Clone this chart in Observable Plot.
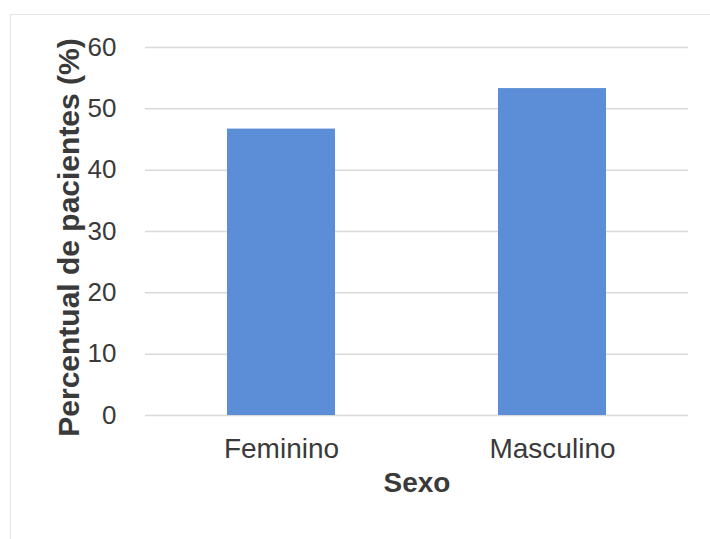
<!DOCTYPE html>
<html>
<head>
<meta charset="utf-8">
<script src="https://cdn.jsdelivr.net/npm/d3@7"></script>
<script src="https://cdn.jsdelivr.net/npm/@observablehq/plot@0.6"></script>
<style>
  html, body { margin: 0; padding: 0; background: #ffffff; }
  #wrap { position: relative; width: 710px; height: 539px; overflow: hidden; }
  #border { position: absolute; left: 10px; top: 14px; width: 720px; height: 560px;
            border: 1.5px solid #e4e4e4; box-sizing: border-box; }
  #chart { position: absolute; left: 0; top: 0; }
</style>
</head>
<body>
<div id="wrap">
  <div id="border"></div>
  <div id="chart"></div>
</div>
<script>
// Share of patients by sex
const categories = ["Feminino", "Masculino"];
const percentages = [46.7, 53.3];
const yTicks = [0, 10, 20, 30, 40, 50, 60];
const xTitle = "Sexo";
const yTitle = "Percentual de pacientes (%)";

const rows = categories.map((c, i) => ({sexo: c, pct: percentages[i]}));

const textColor = "#3a3a3a";
const font = "'Liberation Sans', Arial, sans-serif";

const chart = Plot.plot({
  width: 710,
  height: 539,
  marginLeft: 145,
  marginRight: 22,
  marginTop: 47,
  marginBottom: 124,
  style: {fontFamily: font, color: textColor, background: "transparent", overflow: "visible"},
  x: {domain: categories, paddingInner: 0.6, paddingOuter: 0.3, label: null},
  y: {domain: [0, 60], label: null},
  marks: [
    Plot.gridY(yTicks, {stroke: "#d9d9d9", strokeOpacity: 1, strokeWidth: 1.5}),
    Plot.barY(rows, {x: "sexo", y: "pct", fill: "#5b8ed6"}),
    Plot.axisY(yTicks, {tickSize: 0, tickPadding: 29, fontSize: 26, fill: textColor, label: null}),
    Plot.axisX({tickSize: 0, tickPadding: 23, fontSize: 28, fill: textColor, label: null}),
    Plot.text([xTitle], {frameAnchor: "bottom", dy: 76, fontSize: 28, fontWeight: "bold", fill: textColor}),
    Plot.text([yTitle], {frameAnchor: "left", textAnchor: "middle", rotate: -90, dx: -76, dy: 6, fontSize: 30, fontWeight: "bold", fill: textColor})
  ]
});

document.getElementById("chart").appendChild(chart);
</script>
</body>
</html>
